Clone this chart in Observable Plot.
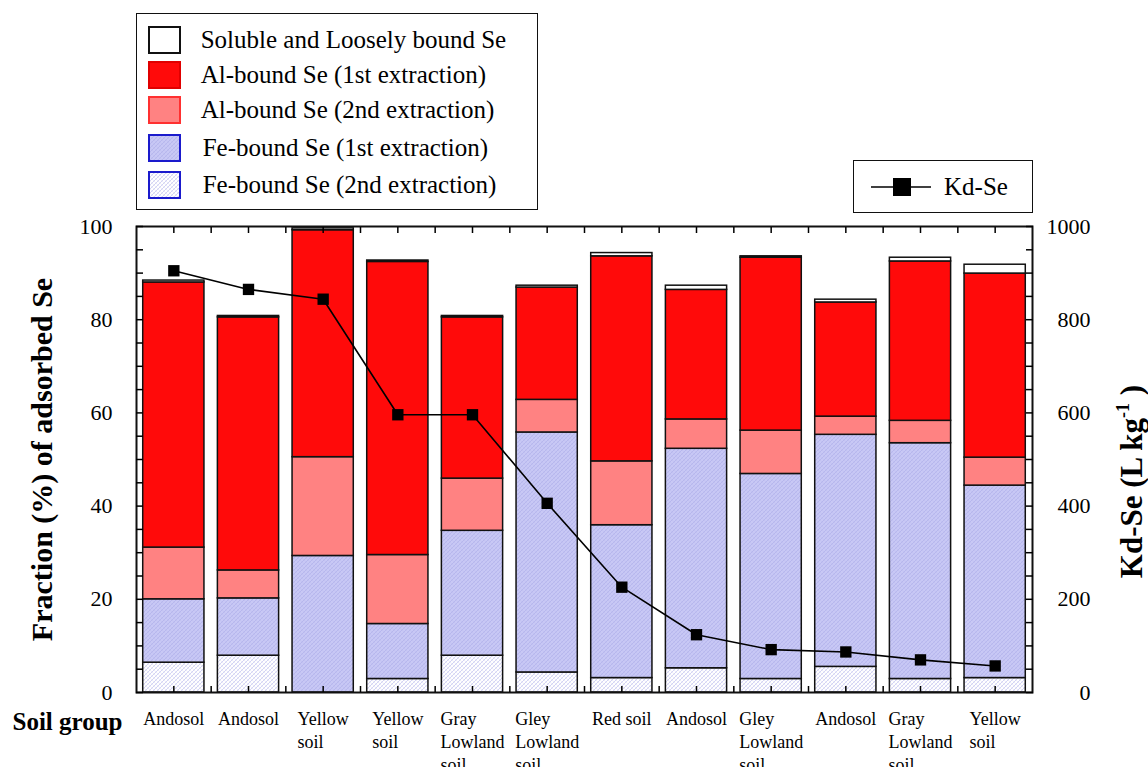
<!DOCTYPE html>
<html><head><meta charset="utf-8">
<script src="https://cdn.jsdelivr.net/npm/d3@7"></script>
<script src="https://cdn.jsdelivr.net/npm/@observablehq/plot@0.6"></script>
<style>
html,body{margin:0;padding:0;background:#fff;}
#wrap{position:relative;width:1148px;height:767px;font-family:"Liberation Serif","Times New Roman",serif;color:#000;overflow:hidden;}
.box{position:absolute;border:1.5px solid #111;background:#fff;box-sizing:border-box;}
.row{position:absolute;display:flex;align-items:center;font-size:25px;white-space:nowrap;height:30px;}
.row svg{flex:none;}
</style></head><body><div id="wrap"></div>
<script>
// ---- data ----
const soilGroups = ["Andosol","Andosol","Yellow\nsoil","Yellow\nsoil","Gray\nLowland\nsoil","Gley\nLowland\nsoil","Red soil","Andosol","Gley\nLowland\nsoil","Andosol","Gray\nLowland\nsoil","Yellow\nsoil"];
const feBound2 = [6.4, 7.9, 0, 2.9, 7.9, 4.3, 3.1, 5.2, 2.9, 5.5, 2.9, 3.1];
const feBound1 = [13.6, 12.3, 29.3, 11.8, 26.8, 51.5, 32.8, 47.1, 44.0, 49.8, 50.6, 41.3];
const alBound2 = [11.1, 6.0, 21.2, 14.8, 11.2, 7.0, 13.7, 6.3, 9.3, 3.9, 4.8, 6.0];
const alBound1 = [56.9, 54.3, 48.7, 62.9, 34.6, 24.1, 44.0, 27.8, 37.1, 24.5, 34.2, 39.5];
const soluble = [0.4, 0.3, 0.4, 0.3, 0.3, 0.4, 0.7, 0.9, 0.3, 0.6, 0.8, 1.9];
const kdSe = [905, 865, 844, 596, 596, 406, 226, 124, 92, 87, 70, 57];
const leftTicks = [0, 20, 40, 60, 80, 100];
const rightTicks = [0, 200, 400, 600, 800, 1000];
const seriesNames = ["Soluble and Loosely bound Se","Al-bound Se (1st extraction)","Al-bound Se (2nd extraction)","Fe-bound Se (1st extraction)","Fe-bound Se (2nd extraction)"];

// ---- styles ----
const series = [
  {key:"fe2", values:feBound2, fill:"url(#patFe2)", border:"#1a1acc"},
  {key:"fe1", values:feBound1, fill:"url(#patFe1)", border:"#1a1acc"},
  {key:"al2", values:alBound2, fill:"#ff8282", border:"#ff3030"},
  {key:"al1", values:alBound1, fill:"#ff0a0a", border:"#e00000"},
  {key:"sol", values:soluble, fill:"#ffffff", border:"#111"}
];
const rows = [];
soilGroups.forEach((g, i) => {
  let base = 0;
  series.forEach(s => {
    const v = s.values[i];
    rows.push({i, key: s.key, y1: base, y2: base + v});
    base += v;
  });
});
const kdRows = kdSe.map((k, i) => ({i, k}));
const halfBar = 0.41;

const rectMarks = series.map(s => Plot.rect(rows.filter(r => r.key === s.key && r.y2 > r.y1), {
  x1: d => d.i - halfBar, x2: d => d.i + halfBar, y1: "y1", y2: "y2",
  fill: s.fill, stroke: "#111", strokeWidth: 1.5
}));

const halfTicks = d3.range(0, 11.01, 0.5);
const chart = Plot.plot({
  width: 1148, height: 767,
  marginLeft: 136, marginRight: 116, marginTop: 226, marginBottom: 75,
  style: {fontFamily: '"Liberation Serif","Times New Roman",serif', color: "#000", background: "#fff", overflow: "visible"},
  x: {domain: [-0.5, 11.5]},
  y: {domain: [0, 100]},
  marks: [
    ...rectMarks,
    Plot.line(kdRows, {x: "i", y: d => d.k / 10, stroke: "#000", strokeWidth: 1.6}),
    Plot.dot(kdRows, {x: "i", y: d => d.k / 10, symbol: "square", fill: "#000", r: 6.4}),
    Plot.frame({stroke: "#111", strokeWidth: 2}),
    Plot.axisY({anchor: "left", ticks: d3.range(0, 101, 5), tickSize: -7, tickFormat: () => "", label: null, strokeWidth: 1.5}),
    Plot.axisY({anchor: "left", ticks: leftTicks, tickSize: 0, tickPadding: 24, fontSize: 22, label: null}),
    Plot.axisY({anchor: "right", ticks: d3.range(0, 101, 5), tickSize: -7, tickFormat: () => "", label: null, strokeWidth: 1.5}),
    Plot.axisY({anchor: "right", ticks: rightTicks.map(v => v / 10), tickSize: 0, tickPadding: 58, textAnchor: "end", tickFormat: d => String(Math.round(d * 10)), fontSize: 22, label: null}),
    Plot.axisX({anchor: "top", ticks: halfTicks, tickSize: -6, tickFormat: () => "", label: null, strokeWidth: 1.5}),
    Plot.axisX({anchor: "bottom", ticks: halfTicks, tickSize: -6, tickFormat: () => "", label: null, strokeWidth: 1.5}),
    Plot.text(soilGroups, {x: (d, i) => i, text: d => d, frameAnchor: "bottom", dy: 16, lineAnchor: "top", textAnchor: "start", fontSize: 18, lineHeight: 1.28, ariaDescription: "xlab"}),
    Plot.text(["Soil group"], {text: d => d, frameAnchor: "bottom-left", dx: -124, dy: 29, textAnchor: "start", lineAnchor: "middle", fontSize: 25, fontWeight: "bold"}),
    Plot.text(["Fraction (%) of adsorbed Se"], {text: d => d, frameAnchor: "left", rotate: -90, dx: -94, textAnchor: "middle", lineAnchor: "middle", fontSize: 30, fontWeight: "bold"}),
    Plot.text(["Kd-Se (L kg-1)"], {text: d => d, frameAnchor: "right", rotate: -90, dx: 100, dy: 22, textAnchor: "middle", lineAnchor: "middle", fontSize: 31, fontWeight: "bold", ariaDescription: "rtitle"})
  ]
});

const wrap = document.getElementById("wrap");
wrap.appendChild(chart);

// patterns
const defs = d3.select(chart).insert("defs", ":first-child");
const p1 = defs.append("pattern").attr("id", "patFe1").attr("patternUnits", "userSpaceOnUse").attr("width", 4).attr("height", 4);
p1.append("rect").attr("width", 4).attr("height", 4).attr("fill", "#c8c8f5");
p1.append("path").attr("d", "M0,4L4,0M-1,1L1,-1M3,5L5,3").attr("stroke", "#b0b0ea").attr("stroke-width", 0.7);
p1.append("path").attr("d", "M0,0L4,4").attr("stroke", "#bcbcef").attr("stroke-width", 0.5);
const p2 = defs.append("pattern").attr("id", "patFe2").attr("patternUnits", "userSpaceOnUse").attr("width", 4).attr("height", 4);
p2.append("rect").attr("width", 4).attr("height", 4).attr("fill", "#ffffff");
p2.append("path").attr("d", "M0,4L4,0M-1,1L1,-1M3,5L5,3").attr("stroke", "#c0c0ee").attr("stroke-width", 0.7);
p2.append("path").attr("d", "M0,0L4,4").attr("stroke", "#d8d8f5").attr("stroke-width", 0.5);

// center multi-line x labels as blocks (lines left-aligned)
d3.select(chart).selectAll('g[aria-description="xlab"] text').each(function() {
  const w = this.getBBox().width;
  const t = this.getAttribute("transform") || "";
  this.setAttribute("transform", t + ` translate(${-w / 2},0)`);
});
// superscript in right title
d3.select(chart).selectAll('g[aria-description="rtitle"] text').each(function() {
  const el = d3.select(this);
  el.text("");
  el.append("tspan").text("Kd-Se (L kg");
  el.append("tspan").attr("dy", -13).attr("font-size", 18).text("-1");
  el.append("tspan").attr("dy", 13).text(" )");
});

// legends
const box1 = document.createElement("div");
box1.className = "box";
Object.assign(box1.style, {left: "136px", top: "13px", width: "402px", height: "197px"});
wrap.appendChild(box1);
const legendFills = [series[4], series[3], series[2], series[1], series[0]];
const rowCenters = [40, 74.5, 110, 147.7, 185];
const textLeft = [200.7, 200.7, 200.7, 202.7, 202.7];
seriesNames.forEach((name, k) => {
  const s = legendFills[k];
  const r = document.createElement("div");
  r.className = "row";
  r.style.left = "148px";
  r.style.top = (rowCenters[k] - 15) + "px";
  r.innerHTML = `<svg width="33" height="28"><rect x="1" y="1" width="31" height="26" fill="${s.fill}" stroke="${s.border}" stroke-width="2"/></svg><span style="margin-left:${textLeft[k] - 181}px">${name}</span>`;
  wrap.appendChild(r);
});
const box2 = document.createElement("div");
box2.className = "box";
Object.assign(box2.style, {left: "853px", top: "159.5px", width: "180px", height: "53px"});
wrap.appendChild(box2);
const r2 = document.createElement("div");
r2.className = "row";
r2.style.left = "871px";
r2.style.top = (187.3 - 15) + "px";
r2.innerHTML = `<svg width="62" height="30"><line x1="0" y1="15" x2="60" y2="15" stroke="#000" stroke-width="1.6"/><rect x="22" y="6" width="18" height="18" fill="#000"/></svg><span style="margin-left:11px">Kd-Se</span>`;
wrap.appendChild(r2);
</script>
</body></html>
